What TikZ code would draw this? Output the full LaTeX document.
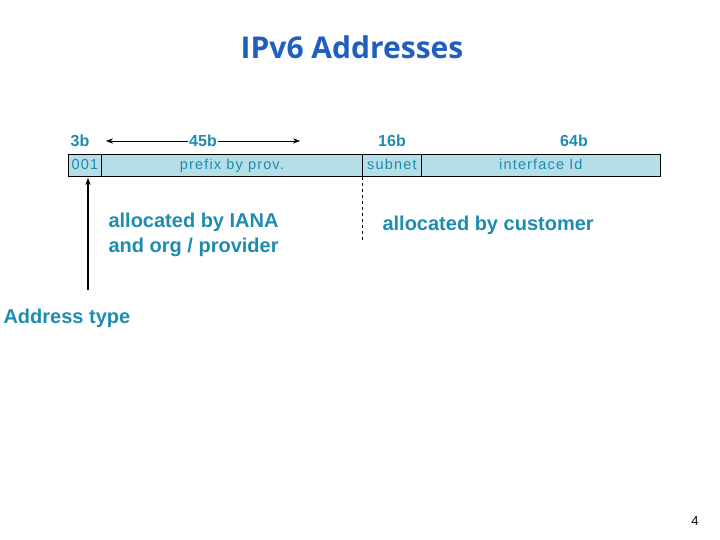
\documentclass[tikz,border=0pt]{standalone}
\usepackage{fontspec}
\setmainfont{Liberation Sans}
\newfontfamily\titlefont{Open Sans}
\newfontfamily\cellfont[LetterSpace=8]{Liberation Sans}
\usetikzlibrary{arrows.meta}
\definecolor{tealt}{HTML}{1E8CB0}
\definecolor{titleblue}{HTML}{1F5FC0}
\definecolor{cellfill}{HTML}{B5DEE6}
\begin{document}
\begin{tikzpicture}[x=1pt,y=-1pt,
  cell/.style={draw=black,fill=cellfill,line width=0.8pt,minimum height=22pt,inner sep=0pt,anchor=north west,text=tealt,text height=11pt,text depth=3pt,font=\cellfont\fontsize{14.5}{16}\selectfont},
  lbl/.style={text=tealt,font=\bfseries\fontsize{16}{18}\selectfont},
  big/.style={text=tealt,font=\bfseries\fontsize{20}{25}\selectfont,align=left}]
\useasboundingbox (0,0) rectangle (720,540);
\node[text=titleblue,font=\titlefont\bfseries\fontsize{30}{34}\selectfont] (title) at (352,47) {IPv6 Addresses};
\node[cell,minimum width=33pt] (c1) at (68,154) {001};
\node[cell,minimum width=261pt] (c2) at (101,154) {prefix by prov.};
\node[cell,minimum width=59pt] (c3) at (362,154) {subnet};
\node[cell,minimum width=239pt] (c4) at (421,154) {interface Id};
\node[lbl] (l1) at (80,141) {3b};
\node[lbl,fill=white,inner sep=1pt] (l2) at (203,141) {45b};
\node[lbl] (l3) at (392,141) {16b};
\node[lbl] (l4) at (574,141) {64b};
\coordinate (a1) at (106,141);
\coordinate (a2) at (300,141);
\draw[-{Stealth[length=7pt]}] (l2.west) -- (a1);
\draw[-{Stealth[length=7pt]}] (l2.east) -- (a2);
\coordinate (d1) at (362,242);
\draw[dashed,line width=0.6pt] (c3.south west) -- (d1);
\coordinate (v0) at (88,290);
\coordinate (v1) at (88,178);
\draw[line width=1.2pt,-{Stealth[length=7pt]}] (v0) -- (v1);
\node[big,anchor=west] (iana) at (105,235) {allocated by IANA\\and org / provider};
\node[big,anchor=west] (cust) at (379,225) {allocated by customer};
\node[big,anchor=west] (atype) at (0,318) {Address type};
\node[font=\fontsize{13}{14}\selectfont] (pg) at (695,521) {4};
\end{tikzpicture}
\end{document}
